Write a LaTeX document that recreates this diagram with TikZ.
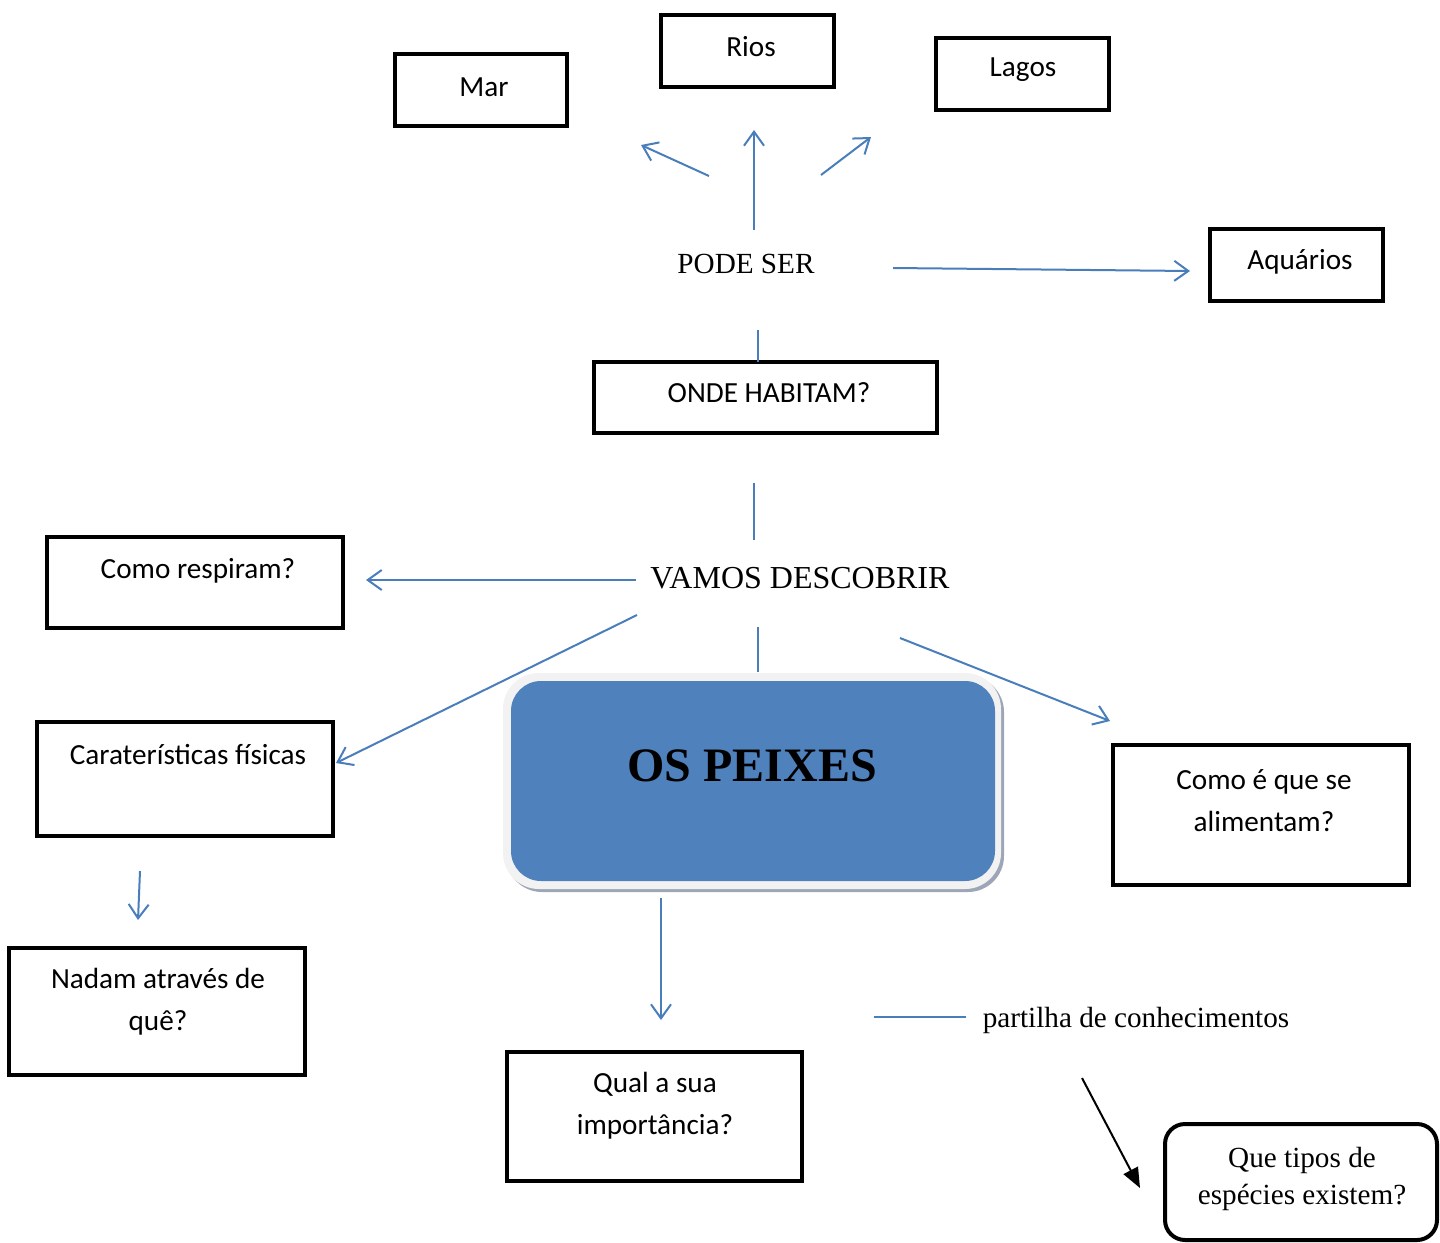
\documentclass[tikz,border=0pt]{standalone}
\usepackage{fontspec}
\setmainfont{Liberation Serif}
\newfontfamily\calibri{Carlito}
\usetikzlibrary{arrows.meta}
\definecolor{linkblue}{HTML}{4A7EBB}
\definecolor{titleblue}{HTML}{4F81BD}
\definecolor{rimgray}{HTML}{F2F2F2}
\definecolor{shadowgray}{HTML}{9DA6B6}
\begin{document}
\begin{tikzpicture}[x=0.5pt,y=-0.5pt,
  qbox/.style={draw, line width=2pt, inner sep=0pt},
  btext/.style={font=\calibri\fontsize{14.6}{21}\selectfont, align=center, inner sep=0pt},
  stext/.style={font=\fontsize{14.6}{18.5}\selectfont, align=center, inner sep=0pt},
  link/.style={draw=linkblue, line width=1pt},
  linkarrow/.style={link, -{Straight Barb[length=7pt,width=10pt]}},
  darkarrow/.style={draw=black, line width=1pt, -{Triangle[length=10pt,width=8pt]}}]
\useasboundingbox (0,0) rectangle (1440,1242);

% answer boxes
\node[qbox, minimum width=86pt, minimum height=36pt] (mar) at (481,90) {};
\node[qbox, minimum width=86.5pt, minimum height=36pt] (rios) at (747.5,51) {};
\node[qbox, minimum width=86.5pt, minimum height=36pt] (lagos) at (1022.5,74) {};
\node[qbox, minimum width=86.5pt, minimum height=36pt] (aquarios) at (1296.5,265) {};
\node[qbox, minimum width=171.5pt, minimum height=35.5pt] (onde) at (765.5,397.5) {};
\node[qbox, minimum width=148pt, minimum height=45.5pt] (respiram) at (195,582.5) {};
\node[qbox, minimum width=148pt, minimum height=57pt] (fisicas) at (185,779) {};
\node[qbox, minimum width=148pt, minimum height=63.5pt] (nadam) at (157,1011.5) {};
\node[qbox, minimum width=148pt, minimum height=70pt] (alimentam) at (1261,815) {};
\node[qbox, minimum width=147.5pt, minimum height=64.5pt] (importancia) at (654.5,1116.5) {};
\node[qbox, rounded corners=10pt, minimum width=136pt, minimum height=58pt] (especies) at (1301,1182) {};

% box texts
\node[btext] (t-mar) at (484,87) {Mar};
\node[btext] (t-rios) at (751,47) {Rios};
\node[btext] (t-lagos) at (1023,70) {Lagos};
\node[btext] (t-aquarios) at (1300,262) {Aquários};
\node[btext] (t-onde) at (769,393) {ONDE HABITAM?};
\node[btext] (t-respiram) at (198,571) {Como respiram?};
\node[btext] (t-fisicas) at (188,755) {Caraterísticas físicas};
\node[btext] (t-nadam) at (158,1002) {Nadam através de\\quê?};
\node[btext] (t-alimentam) at (1264,801) {Como é que se\\alimentam?};
\node[btext] (t-importancia) at (655,1106) {Qual a sua\\importância?};
\node[stext] (t-especies) at (1302,1179) {Que tipos de\\espécies existem?};

% free texts
\node[stext] (podeser) at (746,264) {PODE SER};
\node[stext, font=\fontsize{16}{19}\selectfont] (vamos) at (800,578) {VAMOS DESCOBRIR};
\node[stext] (partilha) at (1136,1020) {partilha de conhecimentos};

% central title box
\node[fill=shadowgray, rounded corners=18pt, inner sep=0pt, minimum width=249pt, minimum height=108pt] (peixes-shadow) at (755,784) {};
\node[fill=rimgray, rounded corners=18pt, inner sep=0pt, minimum width=249pt, minimum height=108pt] (peixes-rim) at (752,781) {};
\node[fill=titleblue, rounded corners=15pt, inner sep=0pt, minimum width=242pt, minimum height=100pt] (peixes) at (753,781) {};
\node[inner sep=0pt, font=\bfseries\fontsize{24}{28}\selectfont] (t-peixes) at (752,766) {OS PEIXES};

% connector end points
\coordinate (c1a) at (709,176);  \coordinate (c1b) at (641,145);
\coordinate (c2a) at (754,230);  \coordinate (c2b) at (754,130);
\coordinate (c3a) at (821,175);  \coordinate (c3b) at (871,137);
\coordinate (c4a) at (893,268);  \coordinate (c4b) at (1190,271);
\coordinate (c5a) at (758,330);  \coordinate (c5b) at (758,362);
\coordinate (c6a) at (754,483);  \coordinate (c6b) at (754,540);
\coordinate (c7a) at (636,580);  \coordinate (c7b) at (366,580);
\coordinate (c8a) at (637,615);  \coordinate (c8b) at (336,763);
\coordinate (c9a) at (758,627);  \coordinate (c9b) at (758,672);
\coordinate (c10a) at (900,638); \coordinate (c10b) at (1110,721);
\coordinate (c11a) at (140,871); \coordinate (c11b) at (138,920);
\coordinate (c12a) at (661,898); \coordinate (c12b) at (661,1020);
\coordinate (c13a) at (874,1017); \coordinate (c13b) at (966,1017);
\coordinate (c14a) at (1082,1078); \coordinate (c14b) at (1140,1188);

% connectors
\draw[linkarrow] (c1a) -- (c1b);
\draw[linkarrow] (c2a) -- (c2b);
\draw[linkarrow] (c3a) -- (c3b);
\draw[linkarrow] (c4a) -- (c4b);
\draw[link] (c5a) -- (c5b);
\draw[link] (c6a) -- (c6b);
\draw[linkarrow] (c7a) -- (c7b);
\draw[linkarrow] (c8a) -- (c8b);
\draw[link] (c9a) -- (c9b);
\draw[linkarrow] (c10a) -- (c10b);
\draw[linkarrow] (c11a) -- (c11b);
\draw[linkarrow] (c12a) -- (c12b);
\draw[link] (c13a) -- (c13b);
\draw[darkarrow] (c14a) -- (c14b);
\end{tikzpicture}
\end{document}
